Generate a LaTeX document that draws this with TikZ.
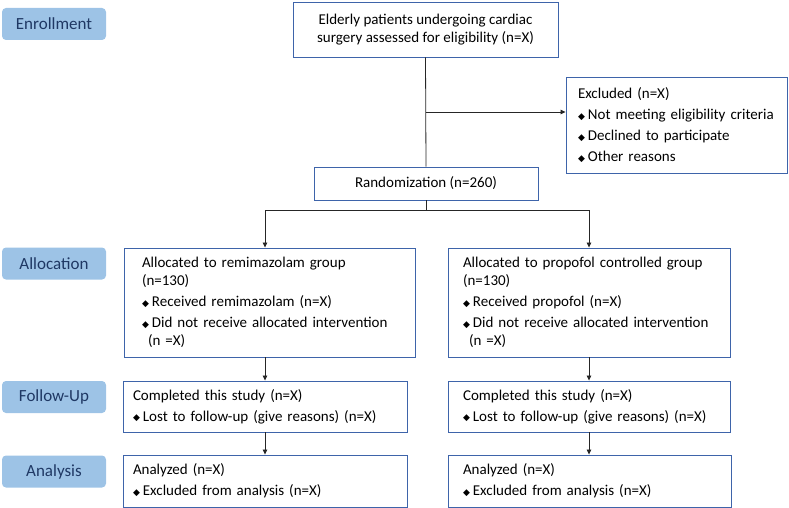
\documentclass[tikz,border=0pt]{standalone}
\usepackage{fontspec}
\setmainfont{Carlito}
\newfontfamily\dvfont{DejaVu Sans}
\usetikzlibrary{arrows.meta}
\definecolor{boxblue}{RGB}{62,100,170}
\definecolor{lblfill}{RGB}{157,195,230}
\definecolor{lbltext}{RGB}{31,56,100}
\newcommand{\bul}{{\dvfont\fontsize{9}{9}\selectfont\raisebox{0.3pt}{◆}}\hspace{3pt}}
\begin{document}
\begin{tikzpicture}[x=1pt,y=-1pt,
  lbl/.style={rectangle, rounded corners=4pt, fill=lblfill, text=lbltext,
    minimum width=104pt, minimum height=32pt, inner sep=0pt,
    font=\fontsize{17}{17}\selectfont},
  box/.style={rectangle, draw=boxblue, line width=0.9pt, inner ysep=0pt,
    font=\fontsize{15}{18}\selectfont},
  conn/.style={line width=0.8pt, draw=black!85},
  arr/.style={conn, -{Triangle[length=5pt,width=4.5pt]}}]
\useasboundingbox (0,0) rectangle (789,508);
% stage labels
\node[lbl] (lenr) at (54,24) {Enrollment};
\node[lbl] (lall) at (54,263.5) {Allocation};
\node[lbl] (lfol) at (54,397) {Follow-Up};
\node[lbl] (lana) at (54,471.5) {Analysis};
% boxes
\node[box, minimum width=265pt, minimum height=55pt, align=center, inner xsep=0pt] (assess) at (425.5,29.5)
  {Elderly patients undergoing cardiac\\surgery assessed for eligibility (n=X)};
\node[box, minimum width=221pt, minimum height=96pt, inner xsep=12pt, text width=197pt, align=left,
  font=\fontsize{15}{21}\selectfont] (excl) at (676.5,125)
  {Excluded (n=X)\\\bul Not meeting eligibility criteria\\\bul Declined to participate\\\bul Other reasons};
\node[box, minimum width=224pt, minimum height=33pt] (rand) at (426,183.5) {Randomization (n=260)};
\node[box, minimum width=291pt, minimum height=109pt, inner xsep=18pt, text width=255pt, align=left] (alloc1) at (269.5,302.5)
  {Allocated to remimazolam group\\(n=130)\\[3pt]\bul Received remimazolam (n=X)\\[3pt]\bul Did not receive allocated intervention\\\hspace*{6pt}(n =X)};
\node[box, minimum width=282pt, minimum height=109pt, inner xsep=15pt, text width=252pt, align=left] (alloc2) at (589,302.5)
  {Allocated to propofol controlled group\\(n=130)\\[3pt]\bul Received propofol (n=X)\\[3pt]\bul Did not receive allocated intervention\\\hspace*{6pt}(n =X)};
\node[box, minimum width=284pt, minimum height=51pt, inner xsep=10pt, text width=264pt, align=left] (fol1) at (265,406.5)
  {Completed this study (n=X)\\[3pt]\bul Lost to follow-up (give reasons) (n=X)};
\node[box, minimum width=282pt, minimum height=51pt, inner xsep=15pt, text width=252pt, align=left] (fol2) at (589,406.5)
  {Completed this study (n=X)\\[3pt]\bul Lost to follow-up (give reasons) (n=X)};
\node[box, minimum width=284pt, minimum height=52pt, inner xsep=10pt, text width=264pt, align=left] (ana1) at (265,481)
  {Analyzed (n=X)\\[3pt]\bul Excluded from analysis (n=X)};
\node[box, minimum width=283pt, minimum height=52pt, inner xsep=15pt, text width=253pt, align=left] (ana2) at (589.5,481)
  {Analyzed (n=X)\\[3pt]\bul Excluded from analysis (n=X)};
% connectors
\coordinate (branch) at (426,112);
\coordinate (split) at (426,210);
\coordinate (sl) at (265,210);
\coordinate (sr) at (589,210);
\draw[conn] (assess.south) -- (rand.north);
\draw[arr] (branch) -- (excl.west |- branch);
\draw[conn] (rand.south) -- (split);
\draw[conn] (sl) -- (sr);
\draw[arr] (sl) -- (alloc1.north -| sl);
\draw[arr] (sr) -- (alloc2.north -| sr);
\draw[arr] (alloc1.south -| fol1.north) -- (fol1.north);
\draw[arr] (alloc2.south -| fol2.north) -- (fol2.north);
\draw[arr] (fol1.south) -- (ana1.north);
\draw[arr] (fol2.south) -- (ana2.north -| fol2.south);
\end{tikzpicture}
\end{document}
